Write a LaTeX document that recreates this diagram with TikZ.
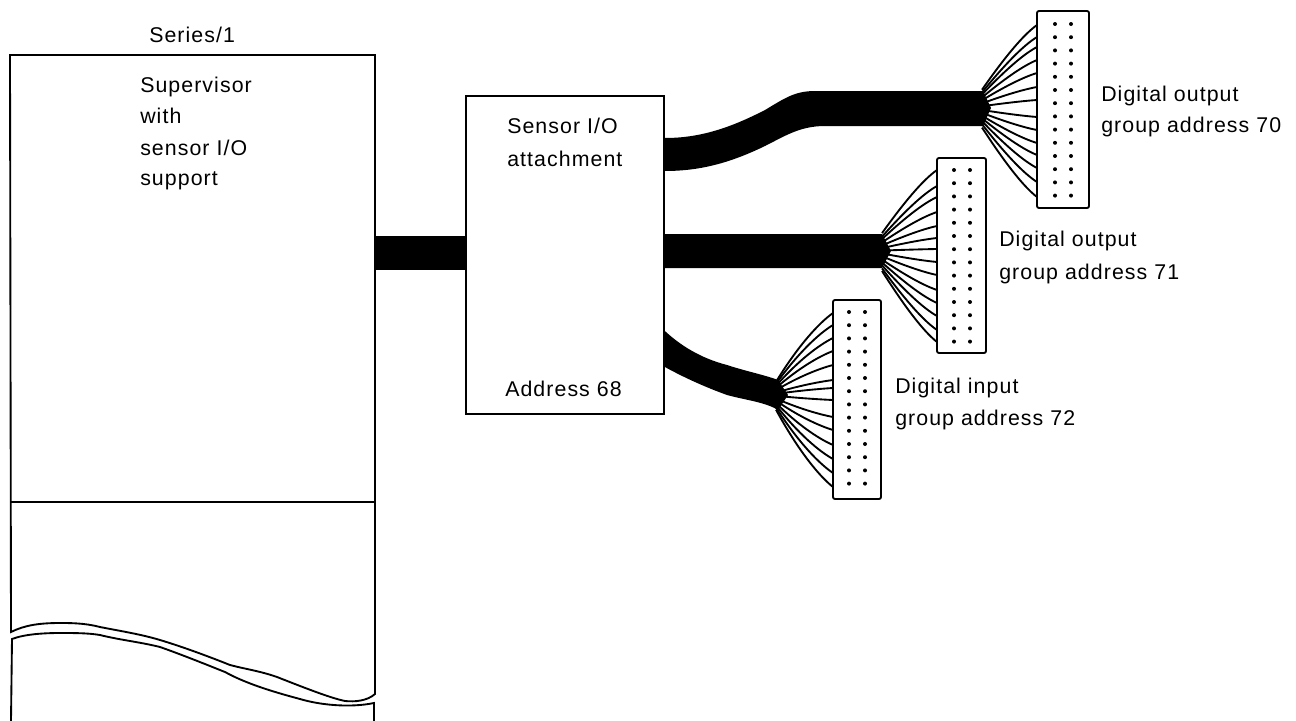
\documentclass[tikz,border=0pt]{standalone}
\usepackage{fontspec}
\setmainfont[LetterSpace=5]{Liberation Sans}
\usetikzlibrary{calc}
\tikzset{
  x=0.75pt,y=-0.75pt,
  outline/.style={draw=black,line width=1.4pt,fill=white},
  cable/.style={fill=black,draw=none},
  wire/.style={draw=black,line width=1.4pt},
  pin/.style={circle,fill=black,inner sep=0pt,minimum size=3pt},
  label/.style={font=\fontsize{16}{18}\selectfont,inner sep=0pt,anchor=base west}
}
\newcommand{\connector}[8]{%
  \draw[outline,rounded corners=1.5pt] (#2,#3) rectangle (#4,#5);
  \coordinate (#1nw) at (#2,#3);
  \foreach \r in {0,...,13}{
    \pgfmathsetmacro{\dy}{#8+\r*13.2}
    \node[pin] at (#6,\dy) {};
    \node[pin] at (#7,\dy) {};
  }
}
\newcommand{\fanout}[5]{%
  \foreach \e in {#4}{
    \pgfmathsetmacro{\sy}{#2+(\e-#2)*#5}
    \coordinate (ws) at (#1,\sy);
    \coordinate (we) at (#3,\e);
    \pgfmathsetmacro{\cy}{#2+(\e-#2)*0.6}
    \pgfmathsetmacro{\dyy}{\e-(\e-#2)*0.12}
    \path[wire] (ws) .. controls (#1+22,\cy) and (#3-14,\dyy) .. (we);
  }
}
\begin{document}
\begin{tikzpicture}
\useasboundingbox (0,0) rectangle (1296,721);
% Series/1 frame
\draw[outline] (11,632) -- (10,55) -- (375,55) -- (375,694)
  .. controls (367,701) and (355,702) .. (345,701)
  .. controls (330,698) and (300,686) .. (277,677)
  .. controls (260,671) and (245,669) .. (230,665)
  .. controls (205,655) and (180,646) .. (160,640)
  .. controls (140,634) and (120,631) .. (100,627)
  .. controls (85,623) and (70,623) .. (60,623)
  .. controls (40,623) and (25,625) .. cycle;
\draw[outline,fill=none] (11,721) -- (12,639)
  .. controls (25,634) and (45,633) .. (60,633)
  .. controls (75,633) and (88,633) .. (100,635)
  .. controls (120,640) and (140,642) .. (160,647)
  .. controls (180,654) and (205,664) .. (225,672)
  .. controls (245,683) and (270,691) .. (300,699)
  .. controls (320,705) and (350,708) .. (374,703) -- (374,721);
\draw[outline,fill=none] (10,502) coordinate (divl) -- (375,502) coordinate (divr);
\coordinate (mainport) at (375,253);
\node[label] (title) at (149,42) {Series/1};
\node[label] (sup1) at (140,92) {Supervisor};
\node[label] (sup2) at (140,123) {with};
\node[label] (sup3) at (140,155) {sensor I/O};
\node[label] (sup4) at (140,185) {support};
% Attachment
\node[outline,rectangle,inner sep=0pt,minimum width=148.5pt,minimum height=238.5pt,anchor=north west] (att) at (465,95) {};
\node[label] (att1) at (507,133) {Sensor I/O};
\node[label] (att2) at (507,166) {attachment};
\node[label] (att3) at (505,396) {Address 68};
% Cables
\fill[cable] (mainport |- 0,236) rectangle (att.west |- 0,270);
\fill[cable] (att.east |- 0,138) .. controls (700,138) and (730,128) .. (765,110)
  .. controls (785,98) and (795,91) .. (815,91) -- (983,91) -- (991,108) -- (983,126) -- (825,126)
  .. controls (800,126) and (785,136) .. (765,146)
  .. controls (730,163) and (700,171) .. (att.east |- 0,171) -- cycle;
\fill[cable] (att.east |- 0,234) -- (882,234) -- (891,251) -- (882,268) -- (att.east |- 0,268) -- cycle;
\fill[cable] (att.east |- 0,331) .. controls (680,345) and (700,358) .. (727,365)
  .. controls (745,371) and (765,375) .. (778,380) -- (788,395) -- (778,410)
  .. controls (765,402) and (745,400) .. (727,395)
  .. controls (705,387) and (685,378) .. (att.east |- 0,367) -- cycle;
% Connectors and fans
\fanout{982}{108}{1037}{25,37,47,60,73,87,100,117,130,143,155,168,182,197}{0.22}
\fanout{882}{251}{937}{170,186,197,212,226,238,249,262,275,290,303,316,330,342}{0.22}
\fanout{776}{395}{833}{313,325,338,351,365,380,388,400,417,430,445,459,473,487}{0.16}
\connector{top}{1037}{11}{1089}{208}{1055}{1071}{24}
\connector{mid}{937}{158}{986}{353}{954}{970}{170}
\connector{low}{833}{300}{881}{499}{849}{865}{312}
\node[label] (l1) at (1101,101) {Digital output};
\node[label] (l2) at (1101,132) {group address 70};
\node[label] (l3) at (999,246) {Digital output};
\node[label] (l4) at (999,279) {group address 71};
\node[label] (l5) at (895,393) {Digital input};
\node[label] (l6) at (895,425) {group address 72};
\end{tikzpicture}
\end{document}
